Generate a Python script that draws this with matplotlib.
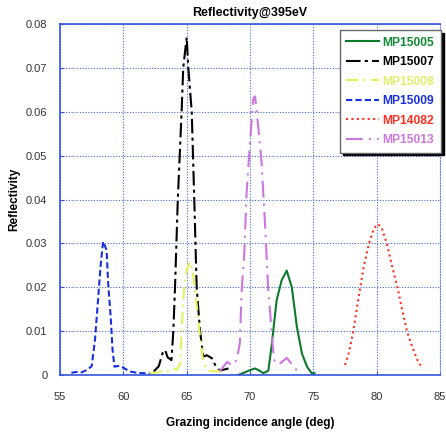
import matplotlib
matplotlib.use("Agg")
import matplotlib.pyplot as plt

# ---------------- data ----------------
x_15005 = [69.07, 69.5, 70.0, 70.4, 70.8, 71.05, 71.45, 71.7, 72.1, 72.5, 72.9, 73.3, 73.7, 74.1, 74.5, 74.87, 75.1]
y_15005 = [0.0, 0.0005, 0.0011, 0.0015, 0.0009, 0.0004, 0.001, 0.0065, 0.017, 0.0216, 0.0238, 0.020, 0.011, 0.0049, 0.0019, 0.0004, 0.0004]

x_15007 = [62.4, 62.8, 63.1, 63.3, 63.5, 63.8, 63.95, 64.08, 64.3, 64.6, 64.73, 65.0, 65.13, 65.4, 65.6, 65.79, 66.05, 66.3, 66.6, 67.0, 67.3, 67.6, 67.9, 68.3]
y_15007 = [0.0008, 0.002, 0.005, 0.0057, 0.004, 0.0034, 0.0102, 0.020, 0.040, 0.060, 0.070, 0.077, 0.070, 0.060, 0.040, 0.020, 0.0102, 0.0042, 0.0045, 0.0038, 0.002, 0.001, 0.0012, 0.0015]

x_15008 = [62.1, 62.6, 63.0, 63.4, 63.8, 64.2, 64.5, 64.6, 64.8, 65.0, 65.26, 65.45, 65.65, 66.0, 66.3, 66.6, 66.8, 67.2, 67.5, 67.8]
y_15008 = [0.0005, 0.0005, 0.0008, 0.0006, 0.0015, 0.0012, 0.0025, 0.0102, 0.020, 0.024, 0.0258, 0.024, 0.020, 0.0102, 0.003, 0.0015, 0.001, 0.0008, 0.001, 0.0005]

x_15009 = [55.9, 56.3, 56.7, 57.1, 57.5, 57.76, 58.0, 58.2, 58.4, 58.68, 58.8, 59.0, 59.15, 59.3, 59.7, 60.1, 60.5, 61.1, 61.6, 62.1]
y_15009 = [0.0005, 0.0007, 0.0006, 0.0011, 0.002, 0.008, 0.017, 0.0247, 0.0304, 0.0285, 0.021, 0.0133, 0.0057, 0.0019, 0.0021, 0.0015, 0.0008, 0.0005, 0.0004, 0.0003]

x_14082 = [77.5, 77.8, 78.15, 78.4, 78.7, 79.0, 79.4, 79.8, 80.1, 80.4, 80.8, 81.2, 81.65, 82.0, 82.4, 82.8, 83.2, 83.6]
y_14082 = [0.0023, 0.005, 0.0099, 0.0145, 0.0199, 0.025, 0.030, 0.0335, 0.0344, 0.0335, 0.030, 0.025, 0.0199, 0.015, 0.0099, 0.0065, 0.0035, 0.0015]

x_15013 = [67.6, 68.2, 68.55, 68.8, 68.95, 69.2, 69.33, 69.55, 69.73, 70.0, 70.26, 70.4, 70.65, 70.9, 71.05, 71.2, 71.3, 71.45, 71.6, 71.7, 71.85, 71.97, 72.4, 72.9, 73.3, 73.7]
y_15013 = [0.0008, 0.003, 0.0022, 0.003, 0.0034, 0.0073, 0.0187, 0.0278, 0.0414, 0.053, 0.063, 0.0635, 0.0566, 0.049, 0.0414, 0.0338, 0.0277, 0.0187, 0.014, 0.0096, 0.005, 0.0027, 0.0027, 0.0039, 0.0025, 0.001]

labels = ["MP15005", "MP15007", "MP15008", "MP15009", "MP14082", "MP15013"]
x_ticks = [55, 60, 65, 70, 75, 80, 85]
y_ticks = [0, 0.01, 0.02, 0.03, 0.04, 0.05, 0.06, 0.07, 0.08]
y_ticklabels = ["0", "0.01", "0.02", "0.03", "0.04", "0.05", "0.06", "0.07", "0.08"]

# ---------------- styles ----------------
series = [
    (x_15005, y_15005, "#0e7a2c", "#118833", "-"),
    (x_15007, y_15007, "#000000", "#000000", (0, (7, 2, 1.5, 2))),
    (x_15008, y_15008, "#e2f25a", "#e0ef6a", (0, (6, 2.5, 1, 2.5))),
    (x_15009, y_15009, "#1a30e0", "#1a30e0", (0, (3, 1.5))),
    (x_14082, y_14082, "#ff3020", "#ff3020", (0, (1, 1.6))),
    (x_15013, y_15013, "#cc77e0", "#cc77e0", (0, (8, 3, 1, 3))),
]

plt.rcParams['font.family'] = ['Liberation Sans', 'DejaVu Sans']
fig = plt.figure(figsize=(4.46, 4.32), dpi=100)
W, H = 446, 432
ax = fig.add_axes([60 / W, (H - 375) / H, 380 / W, 351 / H])

for (xs, ys, c, tc, ls), lab in zip(series, labels):
    ax.plot(xs, ys, color=c, linestyle=ls, linewidth=1.5, label=lab)

ax.set_xlim(55, 85)
ax.set_ylim(0, 0.08)
ax.set_xticks(x_ticks)
ax.set_yticks(y_ticks)
ax.set_yticklabels(y_ticklabels)
ax.tick_params(axis='both', labelsize=8, labelcolor='#333333', color='#3355dd',
               direction='in', length=3)
ax.tick_params(axis='x', pad=12)
ax.tick_params(axis='y', pad=9)

ax.grid(True, color='#4466dd', linestyle=(0, (1, 1.5)), linewidth=0.8)
for side in ['left', 'bottom', 'top']:
    ax.spines[side].set_color('#3355dd')
    ax.spines[side].set_linewidth(1.2)
ax.spines['right'].set_color('#6688ee')
ax.spines['right'].set_linestyle((0, (1, 1.5)))
ax.spines['right'].set_linewidth(0.8)

ax.set_title("Reflectivity@395eV", fontsize=9, fontweight='bold', pad=6)
ax.set_xlabel("Grazing incidence angle (deg)", fontsize=8.5, fontweight='bold', labelpad=11)
ax.set_ylabel("Reflectivity", fontsize=8.5, fontweight='bold', labelpad=4)

leg = ax.legend(loc='upper right', bbox_to_anchor=(1.003, 0.983), borderaxespad=0,
                fontsize=8.7, frameon=True, fancybox=False,
                shadow={'color': 'black', 'alpha': 1},
                edgecolor='#666666', framealpha=1, handlelength=2.7,
                borderpad=0.55, labelspacing=0.62, handletextpad=0.3)
leg.get_frame().set_linewidth(1.0)
for txt, (xs, ys, c, tc, ls) in zip(leg.get_texts(), series):
    txt.set_color(tc)
    txt.set_fontweight('bold')

fig.savefig("out.png", dpi=100)
